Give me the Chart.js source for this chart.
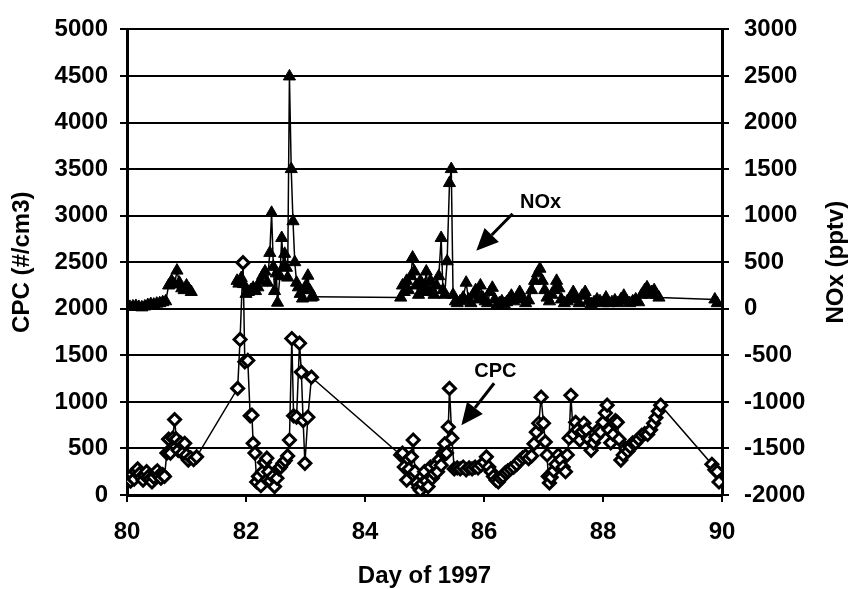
<!DOCTYPE html>
<html lang="en">
<head>
<meta charset="UTF-8">
<title>CPC and NOx, Day of 1997</title>
<script src="https://cdn.jsdelivr.net/npm/chart.js"></script>
<style>
    html, body {
        margin: 0;
        padding: 0;
        background: #fff;
    }
    .chart-container {
        width: 852px;
        height: 589px;
    }
</style>
</head>
<body>
<div class="chart-container"><canvas id="chart"></canvas></div>
<script>
    // NOx (pptv), right axis. null = no data (line break)
    const noxDays = [
        80.00, 80.05, 80.10, 80.15, 80.20, 80.25, 80.30, 80.35, 80.40, 80.45, 80.50, 80.55, 80.60, 80.65,
        80.70, 80.75, 80.80, 80.84, 80.88, 80.92, 80.96, 81.00, 81.04, 81.08, 81.50,
        81.85, 81.88, 81.92, 81.96, 82.00, 82.04, 82.08, 82.12, 82.16, 82.20, 82.24, 82.28, 82.32, 82.36,
        82.40, 82.43, 82.46, 82.48, 82.51, 82.53, 82.57, 82.60, 82.63, 82.65, 82.68, 82.70, 82.73, 82.76,
        82.79, 82.82, 82.85, 82.88, 82.91, 82.95, 82.98, 83.01, 83.04, 83.07, 83.10, 83.13,
        84.60, 84.63, 84.66, 84.70, 84.73, 84.77, 84.80, 84.83, 84.86, 84.90, 84.93, 84.96, 85.00, 85.03,
        85.06, 85.10, 85.13, 85.16, 85.20, 85.24, 85.28, 85.31, 85.34, 85.38, 85.42, 85.45, 85.48, 85.52,
        85.55, 85.60, 85.65, 85.70, 85.74, 85.78, 85.82, 85.86, 85.90, 85.94, 85.98, 86.02, 86.06, 86.10,
        86.14, 86.18, 86.22, 86.26, 86.30, 86.34, 86.38, 86.42, 86.46, 86.50, 86.55, 86.60, 86.65, 86.70,
        86.75, 86.80, 86.85, 86.90, 86.94, 86.98, 87.02, 87.06, 87.10, 87.14, 87.18, 87.22, 87.26, 87.30,
        87.35, 87.40, 87.45, 87.50, 87.55, 87.60, 87.65, 87.70, 87.75, 87.80, 87.85, 87.90, 87.95, 88.00,
        88.05, 88.10, 88.15, 88.20, 88.25, 88.30, 88.35, 88.40, 88.45, 88.50, 88.55, 88.60, 88.65, 88.70,
        88.74, 88.78, 88.82, 88.86, 88.90, 88.94, 89.88, 89.92
    ];
    const noxValues = [
        30, 20, 25, 30, 20, 15, 25, 40, 50, 45, 55, 60, 70, 80,
        250, 300, 260, 410, 280, 220, 200, 250, 210, 180, null,
        300, 270, 330, 265, 160, 180, 200, 225, 190, 230, 300, 355, 400, 280,
        600, 1030, 450, 190, 380, 65, 350, 760, 450, 590, 440, 335, 2495, 1500,
        940, 500, 280, 230, 160, 110, 200, 250, 355, 200, 120, 130,
        120, 250, 180, 300, 200, 350, 550, 400, 250, 150, 300, 200, 250, 400,
        180, 300, 200, 150, 250, 350, 760, 200, 150, 510, 1350, 1500, 150, 80,
        60, 80, 120, 280, 100, 60, 150, 200, 100, 250, 120, 80, 60, 180,
        225, 100, 40, 60, 80, 50, 70, 100, 140, 80, 120, 180, 100, 60,
        90, 200, 300, 380, 430, 300, 200, 120, 80, 150, 200, 300, 220, 100,
        60, 80, 120, 180, 100, 60, 140, 180, 80, 50, 70, 100, 80, 60,
        120, 60, 70, 90, 60, 100, 140, 80, 60, 80, 100, 70, 150, 200,
        230, 150, 180, 200, 150, 120, 100, 60
    ];

    // CPC (#/cm3), left axis
    const cpcDays = [
        80.00, 80.03, 80.06, 80.09, 80.12, 80.15, 80.18, 80.21, 80.24, 80.27, 80.30, 80.33, 80.36, 80.39,
        80.42, 80.45, 80.48, 80.51, 80.54, 80.57, 80.60, 80.63, 80.67, 80.70, 80.73, 80.77, 80.80, 80.83,
        80.86, 80.90, 80.93, 80.97, 81.00, 81.03, 81.07, 81.12, 81.17,
        81.86, 81.90, 81.95, 81.98, 82.03, 82.07, 82.10, 82.12, 82.15, 82.18, 82.21, 82.25, 82.28, 82.31,
        82.35, 82.38, 82.41, 82.45, 82.48, 82.52, 82.55, 82.58, 82.62, 82.66, 82.70, 82.73, 82.77, 82.80,
        82.85, 82.90, 82.93, 82.96, 82.99, 83.04, 83.10,
        84.60, 84.63, 84.66, 84.70, 84.74, 84.78, 84.81, 84.84, 84.87, 84.90, 84.93, 84.96, 85.00, 85.03,
        85.06, 85.10, 85.13, 85.16, 85.19, 85.22, 85.25, 85.28, 85.31, 85.34, 85.37, 85.40, 85.42, 85.46,
        85.50, 85.55, 85.60, 85.65, 85.70, 85.75, 85.80, 85.85, 85.90, 85.95, 86.00, 86.04, 86.08, 86.12,
        86.16, 86.20, 86.24, 86.28, 86.32, 86.36, 86.40, 86.45, 86.50, 86.55, 86.60, 86.65, 86.70, 86.75,
        86.80, 86.84, 86.88, 86.92, 86.96, 87.00, 87.03, 87.06, 87.08, 87.10, 87.13, 87.17, 87.21, 87.25,
        87.29, 87.33, 87.37, 87.40, 87.43, 87.46, 87.50, 87.54, 87.57, 87.61, 87.65, 87.68, 87.72, 87.76,
        87.80, 87.84, 87.88, 87.92, 87.96, 88.00, 88.04, 88.07, 88.10, 88.13, 88.17, 88.21, 88.24, 88.27,
        88.30, 88.34, 88.38, 88.42, 88.46, 88.50, 88.55, 88.60, 88.65, 88.70, 88.75, 88.80, 88.85, 88.89,
        88.93, 88.97, 89.83, 89.88, 89.92, 89.95
    ];
    const cpcValues = [
        200, 180, 150, 220, 170, 250, 280, 230, 190, 160, 210, 250, 200, 170,
        140, 190, 240, 260, 210, 180, 220, 200, 450, 600, 450, 610, 810, 600,
        480, 560, 450, 555, 430, 375, 400, 380, 410,
        1145, 1670, 2495, 1430, 1445, 850, 857, 555, 450, 140, 200, 100, 250, 350,
        395, 250, 150, 200, 90, 180, 280, 300, 340, 370, 420, 590, 1680, 850,
        835, 1630, 1320, 800, 340, 835, 1265,
        430, 450, 300, 160, 280, 410, 590, 250, 130, 80, 50, 120, 250, 150,
        90, 300, 180, 230, 320, 250, 380, 320, 450, 550, 450, 730, 1145, 610,
        280, 290, 280, 300, 270, 290, 280, 300, 290, 320, 350, 410, 300, 250,
        200, 160, 140, 180, 200, 240, 260, 280, 300, 330, 370, 400, 420, 390,
        420, 550, 675, 770, 1050, 770, 570, 430, 200, 130, 190, 260, 330, 430,
        380, 300, 250, 430, 610, 1070, 650, 780, 700, 590, 680, 770, 700, 600,
        480, 560, 620, 700, 675, 780, 880, 965, 700, 560, 650, 800, 780, 600,
        375, 430, 500, 470, 515, 560, 560, 600, 640, 660, 650, 700, 770, 830,
        900, 965, 330, 270, 250, 140
    ];

    // callout labels and arrows, in day / left-axis units
    const calloutText = ['NOx', 'CPC'];
    const calloutAt = [[86.95, 3140], [86.19, 1330]];
    const arrowFrom = [[86.48, 3020], [86.17, 1200]];
    const arrowTo = [[85.87, 2624], [85.62, 750]];

    const FONT = '"Liberation Sans", Arial, sans-serif';

    const toPoints = (xs, ys) => xs.map((x, i) => ({ x: x, y: ys[i] }));

    const extrasPlugin = {
        id: 'extras',
        afterDraw(chart) {
            const { ctx, chartArea, scales } = chart;
            ctx.save();
            ctx.fillStyle = '#000';
            ctx.strokeStyle = '#000';

            // right axis title, reading bottom to top
            ctx.save();
            ctx.font = 'bold 24px ' + FONT;
            ctx.translate(836, (chartArea.top + chartArea.bottom) / 2);
            ctx.rotate(-Math.PI / 2);
            ctx.textAlign = 'center';
            ctx.textBaseline = 'middle';
            ctx.fillText('NOx (pptv)', 0, 0);
            ctx.restore();

            ctx.font = 'bold 20px ' + FONT;
            ctx.textAlign = 'center';
            ctx.textBaseline = 'middle';
            calloutText.forEach((txt, i) => {
                ctx.fillText(txt, scales.x.getPixelForValue(calloutAt[i][0]), scales.y.getPixelForValue(calloutAt[i][1]));

                const x1 = scales.x.getPixelForValue(arrowFrom[i][0]);
                const y1 = scales.y.getPixelForValue(arrowFrom[i][1]);
                const x2 = scales.x.getPixelForValue(arrowTo[i][0]);
                const y2 = scales.y.getPixelForValue(arrowTo[i][1]);
                const ang = Math.atan2(y2 - y1, x2 - x1);
                const headLen = 22, headW = 10;
                const bx = x2 - headLen * Math.cos(ang);
                const by = y2 - headLen * Math.sin(ang);

                ctx.lineWidth = 3;
                ctx.beginPath();
                ctx.moveTo(x1, y1);
                ctx.lineTo(bx, by);
                ctx.stroke();

                ctx.beginPath();
                ctx.moveTo(x2, y2);
                ctx.lineTo(bx + headW * Math.sin(ang), by - headW * Math.cos(ang));
                ctx.lineTo(bx - headW * Math.sin(ang), by + headW * Math.cos(ang));
                ctx.closePath();
                ctx.fill();
            });
            ctx.restore();
        }
    };

    const tickFont = { family: FONT, size: 24, weight: 'bold' };

    new Chart(document.getElementById('chart'), {
        type: 'line',
        data: {
            datasets: [
                {
                    label: 'NOx',
                    data: toPoints(noxDays, noxValues),
                    yAxisID: 'yRight',
                    borderColor: '#000',
                    borderWidth: 1.5,
                    backgroundColor: '#000',
                    pointStyle: 'triangle',
                    pointRadius: 7,
                    pointBackgroundColor: '#000',
                    pointBorderColor: '#000',
                    pointBorderWidth: 1,
                    spanGaps: false,
                    tension: 0
                },
                {
                    label: 'CPC',
                    data: toPoints(cpcDays, cpcValues),
                    yAxisID: 'y',
                    borderColor: '#000',
                    borderWidth: 1.5,
                    pointStyle: 'rectRot',
                    pointRadius: 6,
                    pointBackgroundColor: '#fff',
                    pointBorderColor: '#000',
                    pointBorderWidth: 3,
                    tension: 0
                }
            ]
        },
        options: {
            responsive: true,
            maintainAspectRatio: false,
            animation: false,
            layout: { padding: { top: 28, left: 0, right: 0, bottom: 0 } },
            plugins: {
                legend: { display: false },
                tooltip: { enabled: false }
            },
            scales: {
                x: {
                    type: 'linear',
                    min: 80,
                    max: 90,
                    ticks: { stepSize: 2, color: '#000', padding: 16, font: tickFont },
                    grid: { drawOnChartArea: false, drawTicks: true, tickLength: 7, color: '#000', lineWidth: 2 },
                    border: { display: true, color: '#000', width: 3 },
                    title: {
                        display: true,
                        text: 'Day of 1997',
                        color: '#000',
                        font: { family: FONT, size: 24, weight: 'bold', lineHeight: 1 },
                        padding: { top: 0, bottom: 1 }
                    },
                    afterFit: scale => { scale.height = 94; }
                },
                y: {
                    position: 'left',
                    min: 0,
                    max: 5000,
                    ticks: { stepSize: 500, color: '#000', padding: 12, font: tickFont, callback: v => String(v) },
                    grid: { color: '#000', lineWidth: 2, tickLength: 7 },
                    border: { display: true, color: '#000', width: 3 },
                    title: {
                        display: true,
                        text: 'CPC (#/cm3)',
                        color: '#000',
                        font: { family: FONT, size: 24, weight: 'bold', lineHeight: 1 },
                        padding: { top: 10, bottom: 0 }
                    },
                    afterFit: scale => { scale.width = 127; }
                },
                yRight: {
                    position: 'right',
                    min: -2000,
                    max: 3000,
                    ticks: { stepSize: 500, color: '#000', padding: 15, font: tickFont, callback: v => String(v) },
                    grid: { drawOnChartArea: false, color: '#000', lineWidth: 2, tickLength: 7 },
                    border: { display: true, color: '#000', width: 3 },
                    afterFit: scale => { scale.width = 130; }
                }
            }
        },
        plugins: [extrasPlugin]
    });
</script>
</body>
</html>
